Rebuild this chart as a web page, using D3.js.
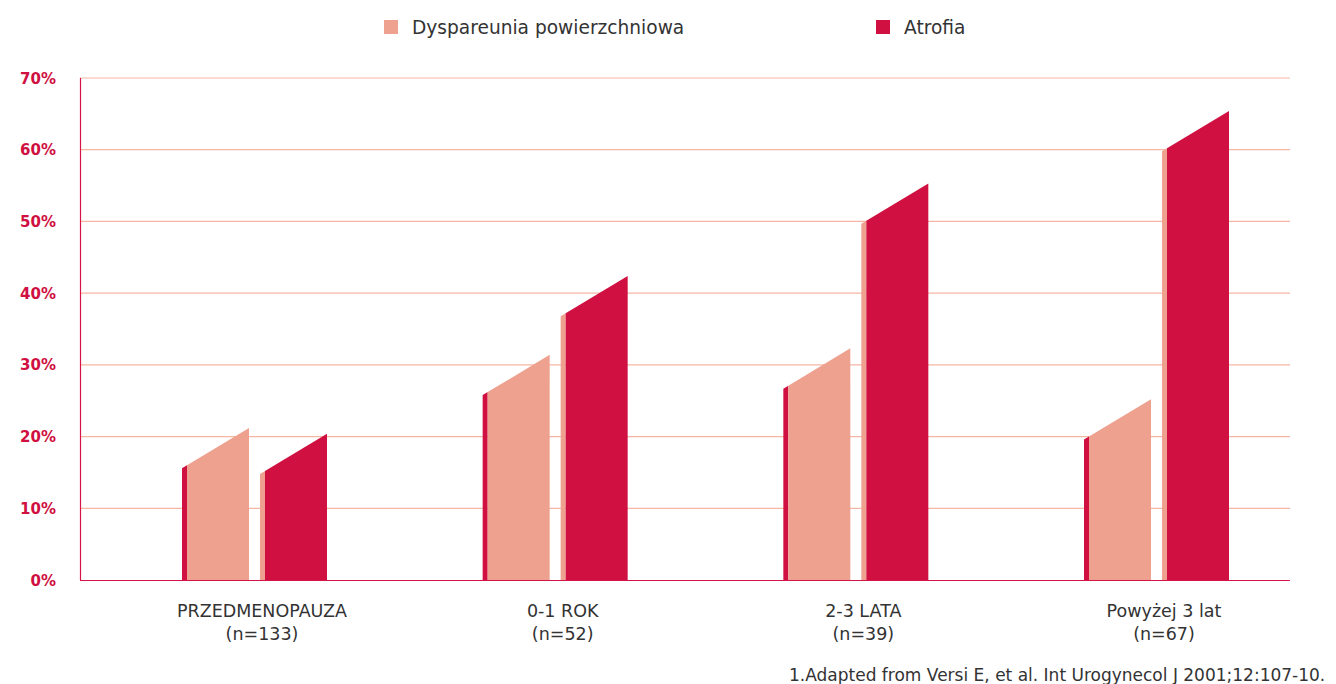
<!DOCTYPE html>
<html>
<head>
<meta charset="utf-8">
<script src="https://cdn.jsdelivr.net/npm/d3@7"></script>
<style>
  body { margin: 0; background: #fff; }
  text { font-family: "DejaVu Sans", sans-serif; }
</style>
</head>
<body>
<svg id="chart"></svg>
<script>
var width = 1336;
var height = 684;

// categories (two text lines each)
var categories = ['PRZEDMENOPAUZA', '0-1 ROK', '2-3 LATA', 'Powyżej 3 lat'];
var categoryN = ['(n=133)', '(n=52)', '(n=39)', '(n=67)'];

var seriesNames = ['Dyspareunia powierzchniowa', 'Atrofia'];
var seriesColors = ['#eea18f', '#cf1041'];

// bar heights (%) at the front (left) edge
var dyspareunia = [16, 26.2, 27.1, 20];
var atrofia = [15.2, 37.2, 50.1, 60.2];

var yTicks = [0, 10, 20, 30, 40, 50, 60, 70];

var footnote = '1.Adapted from Versi E, et al. Int Urogynecol J 2001;12:107-10.';

var svg = d3.select('#chart').attr('width', width).attr('height', height);

var plotLeft = 80, plotRight = 1290;

var y = d3.scaleLinear().domain([0, 70]).range([580, 78]);

var x0 = d3.scalePoint().domain(categories).range([254, 1156]);

var x1 = d3.scaleBand().domain(seriesNames).range([-67, 73]).paddingInner(0.205);

// gridlines
svg.append('g')
  .selectAll('line')
  .data(yTicks.slice(1))
  .enter()
  .append('line')
  .attr('x1', plotLeft).attr('x2', plotRight)
  .attr('y1', function(d){ return y(d) })
  .attr('y2', function(d){ return y(d) })
  .attr('stroke', '#f6b6a4')
  .attr('stroke-width', 1.2);

// y axis labels
svg.append('g')
  .selectAll('text')
  .data(yTicks)
  .enter()
  .append('text')
  .attr('x', 56)
  .attr('y', function(d){ return y(d) + 5.5 })
  .attr('text-anchor', 'end')
  .attr('font-size', 15)
  .attr('font-weight', 'bold')
  .attr('fill', '#cf1041')
  .text(function(d){ return d + '%' });

// axis lines
svg.append('line')
  .attr('x1', plotLeft + 0.5).attr('x2', plotLeft + 0.5)
  .attr('y1', y(70)).attr('y2', y(0))
  .attr('stroke', '#d41448').attr('stroke-width', 1.2);

// bars with slanted tops + side strip
var rise = 5.2;   // extra % at the back (right) edge of each bar
var strip = 5;

var rows = [];
categories.forEach(function(c, i){
  rows.push({ cat: c, s: 0, v: dyspareunia[i] });
  rows.push({ cat: c, s: 1, v: atrofia[i] });
});

var bars = svg.append('g').selectAll('g')
  .data(rows)
  .enter()
  .append('g');

bars.append('path')
  .attr('fill', function(d){ return seriesColors[1 - d.s] })
  .attr('d', function(d){
    var xa = x0(d.cat) + x1(seriesNames[d.s]);
    var xb = xa + x1.bandwidth();
    var yl = y(d.v), yr = y(d.v + rise);
    var slope = (yl - yr) / (xb - xa);
    var xs = xa - strip;
    return 'M' + xs + ',' + y(0) + 'L' + xs + ',' + (yl + slope * strip) +
      'L' + xa + ',' + yl + 'L' + xa + ',' + y(0) + 'Z';
  });

bars.append('path')
  .attr('fill', function(d){ return seriesColors[d.s] })
  .attr('d', function(d){
    var xa = x0(d.cat) + x1(seriesNames[d.s]);
    var xb = xa + x1.bandwidth();
    return 'M' + xa + ',' + y(0) + 'L' + xa + ',' + y(d.v) +
      'L' + xb + ',' + y(d.v + rise) + 'L' + xb + ',' + y(0) + 'Z';
  });

svg.append('line')
  .attr('x1', plotLeft).attr('x2', plotRight)
  .attr('y1', y(0) + 0.5).attr('y2', y(0) + 0.5)
  .attr('stroke', '#d41448').attr('stroke-width', 1.2);

// category labels
var labels = svg.append('g').selectAll('text')
  .data(categories)
  .enter()
  .append('text')
  .attr('text-anchor', 'middle')
  .attr('font-size', 17.5)
  .attr('fill', '#333');

labels.append('tspan')
  .attr('x', function(d){ return x0(d) + 8 })
  .attr('y', 617)
  .text(function(d){ return d });

labels.append('tspan')
  .attr('x', function(d){ return x0(d) + 8 })
  .attr('y', 640)
  .text(function(d, i){ return categoryN[i] });

// legend
var legendX = [384, 876];
var legend = svg.append('g').selectAll('g')
  .data(seriesNames)
  .enter()
  .append('g')
  .attr('transform', function(d, i){ return 'translate(' + legendX[i] + ',20)' });

legend.append('rect')
  .attr('width', 14).attr('height', 14)
  .attr('fill', function(d, i){ return seriesColors[i] });

legend.append('text')
  .attr('x', 28).attr('y', 14)
  .attr('font-size', 18.6)
  .attr('fill', '#333')
  .text(function(d){ return d });

svg.append('text')
  .attr('x', 789).attr('y', 681)
  .attr('font-size', 17)
  .attr('fill', '#333')
  .text(footnote);
</script>
</body>
</html>
